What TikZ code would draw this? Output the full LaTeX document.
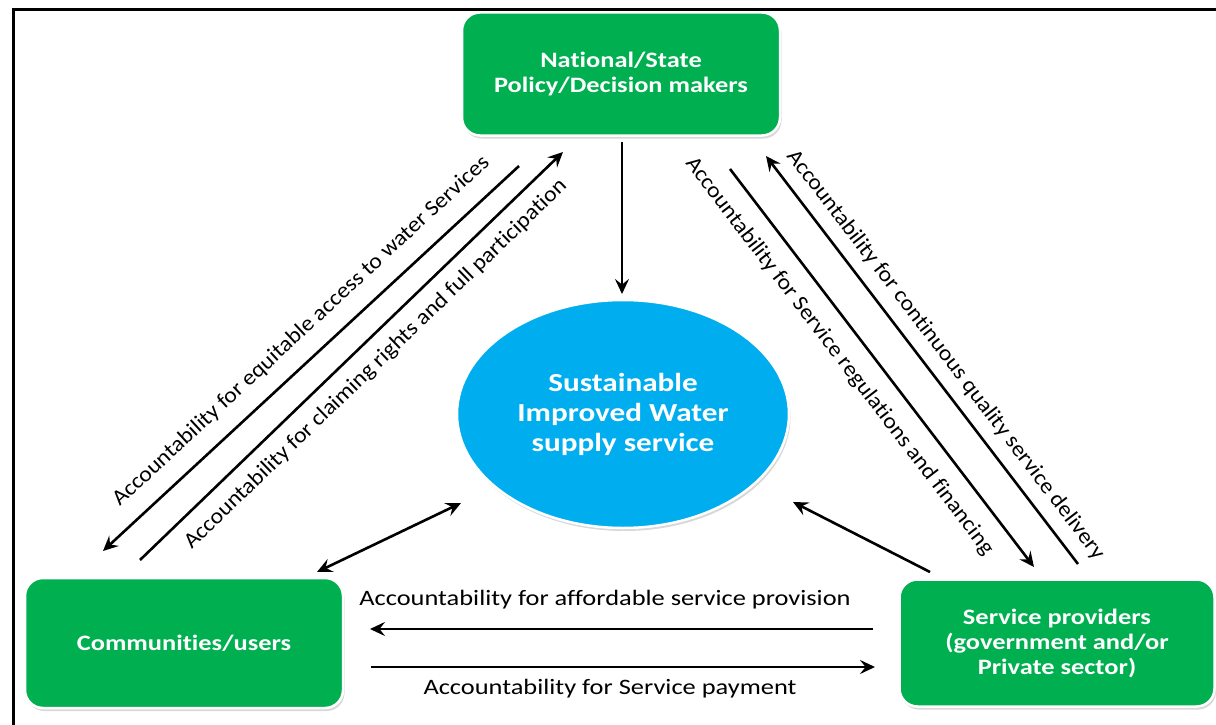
\documentclass[tikz,border=0pt]{standalone}
\usepackage{fontspec}
\setmainfont{Carlito}[Ligatures=NoCommon]
\newfontfamily\widefont{Carlito}[FakeStretch=1.2, Ligatures=NoCommon]
\newfontfamily\slfont{Carlito}[FakeStretch=1.08, Ligatures=NoCommon]
\usetikzlibrary{arrows.meta,shapes.geometric,shadows}
\definecolor{boxgreen}{HTML}{00B050}
\definecolor{ellblue}{HTML}{00AEEF}
\begin{document}
\begin{tikzpicture}[x=1pt,y=-1pt,
  gbox/.style={draw=white, line width=2.5pt, fill=boxgreen, rounded corners=18pt,
    text=white, align=center, font=\widefont\fontsize{22}{25}\selectfont\bfseries,
    drop shadow={shadow xshift=1.5pt, shadow yshift=-3pt, fill=black!30}},
  ellnode/.style={ellipse, draw=white, line width=2.5pt, fill=ellblue,
    text=white, align=center, font=\widefont\fontsize{26}{30}\selectfont\bfseries,
    drop shadow={shadow xshift=1.5pt, shadow yshift=-3pt, fill=black!30}, inner sep=0pt},
  tip/.tip={Stealth[length=15pt,width=14pt,inset=5.5pt]},
  arr/.style={line width=2.6pt, -tip},
  darr/.style={line width=2.6pt, tip-tip},
  lbl/.style={font=\widefont\fontsize{22}{24}\selectfont, text=black, inner sep=0pt},
  slbl/.style={font=\slfont\fontsize{22}{24}\selectfont, text=black, inner sep=3pt}
]
\useasboundingbox (0,0) rectangle (1216,725);
\fill[white] (0,0) rectangle (1216,725);
% frame
\draw[line width=3pt] (13,725) -- (13,9.5) -- (1216,9.5);

% nodes
\node[gbox, minimum width=318pt, minimum height=123pt] (top) at (621,74) {National/State\\Policy/Decision makers};
\node[gbox, minimum width=318pt, minimum height=130pt] (comm) at (184,643) {Communities/users};
\node[gbox, minimum width=315pt, minimum height=127pt] (prov) at (1057,643) {Service providers\\(government and/or\\Private sector)};
\node[ellnode, minimum width=332pt, minimum height=228pt] (ell) at (623,414) {Sustainable\\Improved Water\\supply service};

% end point coordinates
\coordinate (a1s) at (519,166);
\coordinate (a1e) at (103,551);
\coordinate (a2s) at (140,560);
\coordinate (a2e) at (563,152);
\coordinate (a3s) at (730,169);
\coordinate (a3e) at (1034,567);
\coordinate (a4s) at (1078,564);
\coordinate (a4e) at (766,156);
\coordinate (d1s) at (317,572);
\coordinate (d1e) at (461,503);
\coordinate (r1s) at (930,572);
\coordinate (r1e) at (793,502);
\coordinate (h1s) at (873,629);
\coordinate (h1e) at (370,629);
\coordinate (h2s) at (371,667);
\coordinate (h2e) at (875,667);
\coordinate (vs) at (622,142);
\coordinate (ve) at (622,294);

\draw[arr] (vs) -- (ve);
\draw[arr] (a1s) -- node[slbl, sloped, above=13pt, pos=0.48] {Accountability for equitable access to water Services} (a1e);
\draw[arr] (a2s) -- node[slbl, sloped, below=9pt, pos=0.52] {Accountability for claiming rights and full participation} (a2e);
\draw[arr] (a3s) -- node[slbl, sloped, below=13pt, pos=0.43] {Accountability for Service regulations and financing} (a3e);
\draw[arr] (a4s) -- node[slbl, sloped, above=8pt, pos=0.48] {Accountability for continuous quality service delivery} (a4e);
\draw[darr] (d1s) -- (d1e);
\draw[arr] (r1s) -- (r1e);
\draw[arr] (h1s) -- (h1e);
\draw[arr] (h2s) -- (h2e);
\node[lbl] (h1l) at (605,600) {Accountability for affordable service provision};
\node[lbl] (h2l) at (610,689) {Accountability for Service payment};
\end{tikzpicture}
\end{document}
